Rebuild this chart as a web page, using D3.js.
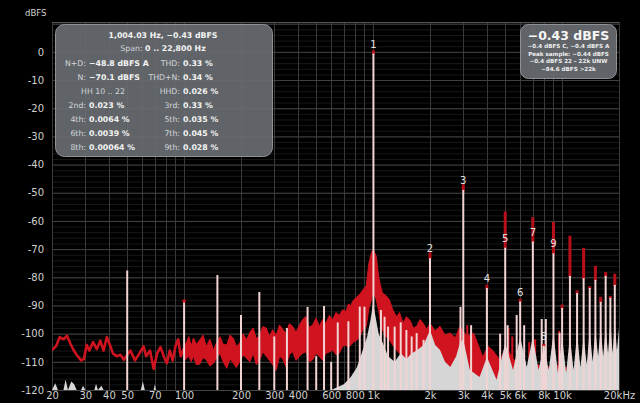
<!DOCTYPE html>
<html>
<head>
<meta charset="utf-8">
<script src="https://cdn.jsdelivr.net/npm/d3@7"></script>
<style>
  body { margin: 0; background: #000; }
  svg { display: block; font-family: "DejaVu Sans", sans-serif; }
</style>
</head>
<body>
<svg id="chart" width="640" height="403"></svg>
<script>
/* DATA */
// y ticks (dBFS) and x ticks (Hz)
const yTicks = [0, -10, -20, -30, -40, -50, -60, -70, -80, -90, -100, -110, -120];
const xTickValues = [20, 30, 40, 50, 70, 100, 200, 300, 400, 600, 800, 1000, 2000, 3000, 4000, 5000, 6000, 8000, 10000, 20000];
const xTickText = ["20", "30", "40", "50", "70", "100", "200", "300", "400", "600", "800", "1k", "2k", "3k", "4k", "5k", "6k", "8k", "10k", "20kHz"];

// red (peak hold) trace below 100 Hz: [Hz, dBFS]
const redLine = [
  [20, -105.8], [21, -104.5], [22, -101.2], [23, -102], [24, -100.8], [25, -103.5],
  [26, -105.8], [27, -107.5], [28.5, -109.5], [29.5, -109], [30.5, -104], [31.5, -106],
  [33, -103], [34.5, -105.5], [36, -102.5], [37.5, -106], [39, -101.2], [40.5, -104],
  [42, -107], [44, -108], [46, -107.5], [48, -109.3], [52, -106], [55, -109.5],
  [58, -107], [61, -104.5], [63, -108], [66, -106], [69, -112.5], [72, -107],
  [75, -104.8], [78, -108], [81, -110.5], [84, -106], [87, -109.5], [90, -104.5],
  [93, -102], [96, -108], [100, -105]
];

// red band above 100 Hz: [Hz, top dBFS, bottom dBFS]
const redBand = [
  [100, -105, -109.5], [106, -101, -108], [109, -104.5, -110], [112, -101.5, -108],
  [116, -103.8, -111], [121, -102.3, -110.8], [126, -100.5, -108.5], [131, -104.6, -109.3],
  [137, -102, -111.5], [143, -105.8, -110.5], [149, -103, -108.5], [155, -101.1, -107],
  [161, -103.8, -110], [168, -104, -112.3], [175, -100.5, -109], [182, -101.6, -110.5],
  [189, -104.5, -112], [197, -103.3, -109.9], [205, -100, -107.5], [214, -102.1, -108.7],
  [223, -99.5, -110], [232, -98, -107], [241, -101.8, -111], [251, -100.4, -109.3],
  [261, -97.5, -106.5], [272, -98, -108], [283, -101, -109.5], [294, -98.6, -111],
  [307, -100.5, -113], [320, -96.9, -108], [333, -98.5, -109], [346, -99.8, -111.8],
  [360, -96.5, -107.5], [375, -97.4, -106.4], [391, -99.5, -109.5], [408, -96.9, -108],
  [424, -95, -107], [441, -93.9, -106.4], [460, -97.8, -110], [479, -96.9, -109.3],
  [499, -94.5, -107], [519, -97.4, -108], [541, -95, -109.5], [563, -96.3, -107],
  [587, -93.5, -106.5], [611, -95.1, -105.8], [636, -92.5, -107.5], [662, -93.5, -107],
  [690, -91.5, -104.5], [718, -92.1, -104], [740, -89.5, -105], [760, -90, -104],
  [790, -88, -103], [820, -87, -102.3], [850, -86, -101], [883, -84.5, -98.7],
  [920, -83, -97.4], [950, -75, -91], [980, -71.4, -88], [1000, -70, -85],
  [1040, -72.6, -88], [1070, -79.9, -92], [1095, -83, -96], [1120, -85.6, -98.7],
  [1170, -86.5, -101], [1220, -88, -102.3], [1270, -91.5, -104], [1330, -94, -105.8],
  [1380, -92.5, -107], [1440, -96.3, -108.3], [1500, -94, -109], [1570, -95.3, -110.5],
  [1630, -98, -109], [1700, -97.4, -110.5], [1770, -95, -111], [1840, -96.3, -109.3],
  [1920, -98.5, -112], [2000, -96.3, -113], [2130, -99, -113], [2260, -97.4, -114],
  [2400, -100.5, -115], [2560, -99.8, -115.4], [2720, -101.5, -115], [2880, -97.4, -115],
  [3130, -101, -116], [3400, -99.8, -116], [3600, -104, -117], [3800, -108.3, -117],
  [4050, -104.5, -117], [4300, -106, -117], [4700, -109.5, -118], [5000, -105, -118],
  [5300, -107, -118], [5650, -110, -118], [6000, -108, -118], [6500, -113, -118],
  [6950, -109, -118], [7400, -111, -118], [8300, -112, -118], [9300, -111, -118],
  [10600, -112, -118], [13500, -113, -118], [20000, -115, -118]
];

// red spikes poking out of the band: [Hz, dBFS]
const redSpikes = [[3150, -97], [3300, -99], [5200, -98], [5450, -101], [6700, -103], [7200, -102], [9650, -99]];

// grey (current) trace, filled from the floor: [Hz, dBFS]
const greyTrace = [
  [20, -120], [20.8, -117.6], [21.5, -120], [23, -120], [23.6, -116.3], [24.3, -120],
  [25.3, -117], [26.2, -118], [27, -120], [28.5, -120], [29.2, -118.5], [30, -120],
  [33.5, -120], [34.2, -117.8], [35, -120], [36.5, -118.5], [37.5, -120], [59, -120],
  [60.5, -117], [62, -120], [69, -120], [70, -118], [71, -120], [600, -120],
  [700, -118], [760, -115.5], [820, -112], [880, -106], [930, -101], [970, -95],
  [1000, -89], [1030, -94], [1070, -100], [1120, -103], [1200, -108], [1300, -110],
  [1400, -107], [1500, -109], [1600, -107], [1700, -106], [1850, -104], [2000, -98.7],
  [2130, -104], [2260, -105.8], [2400, -110], [2560, -111.8], [2750, -108], [2880, -103.3],
  [3000, -102], [3250, -112.9], [3660, -115.4], [4000, -108.3], [4500, -116.4], [5000, -103.3],
  [5500, -112.9], [6000, -101.1], [6500, -111.8], [7000, -101.1], [7500, -112.9], [8000, -104.7],
  [8500, -112.9], [9000, -99.8], [9500, -114], [10000, -101.1], [10500, -114], [11000, -101],
  [11500, -113], [12000, -100], [12500, -112], [13000, -101], [13500, -111], [14000, -98.7],
  [14500, -110], [15000, -98.7], [15500, -108], [16000, -98], [16500, -108], [17000, -98],
  [17500, -107], [18000, -96], [18500, -107], [19000, -96], [19500, -106], [20000, -98]
];

// hum / sideband spikes: [Hz, dBFS]
const humSpikes = [
  [50, -77.6], [100, -88.7], [150, -79.2], [200, -93.4], [250, -85.2], [300, -101],
  [350, -98], [450, -90.5], [500, -108], [550, -90.2], [600, -110], [650, -96],
  [740, -95.6], [850, -90.4], [900, -90.4], [1100, -91.6], [1150, -94], [1200, -97.5],
  [1300, -97.5], [1400, -96], [1500, -98.7], [1600, -101], [1700, -99.8], [1850, -102.2],
  [2900, -90.5], [3300, -97], [4700, -100], [5150, -97], [5750, -93.4], [6300, -97],
  [7800, -94.8], [8200, -94.8], [9700, -99.7]
];

// numbered harmonics: [n, Hz, dBFS, peak hold dBFS]
const harmonics = [
  [1, 1004, -0.6, 0.2], [2, 2000, -73.2, -71.5], [3, 3000, -49, -47.3], [4, 4000, -83.8, -83],
  [5, 5000, -69.5, -57], [6, 6000, -88.6, -88], [7, 7000, -67.3, -59], [8, 8000, -104.3, -104],
  [9, 9000, -71.5, -60.7]
];

// higher harmonics 10..19 (unlabelled): [Hz, dBFS, peak hold dBFS]
const highHarmonics = [
  [10000, -90.9, -90], [11000, -79.5, -65.6], [12000, -85.6, -85], [13000, -80.3, -69.9],
  [14000, -83.8, -83.5], [15000, -80.9, -76.3], [16000, -88.7, -87.3], [17000, -79.5, -78.5],
  [18000, -87.3, -87], [19000, -82.7, -79.1]
];

// info panels
const infoTitle = "1,004.03 Hz, \u22120.43 dBFS";
const infoSpan = ["Span: ", "0 .. 22,800 Hz"];
const infoLeft = [["N+D:", "\u221248.8 dBFS A"], ["N:", "\u221270.1 dBFS"], ["", ""], ["2nd:", "0.023 %"], ["4th:", "0.0064 %"], ["6th:", "0.0039 %"], ["8th:", "0.00064 %"]];
const infoRight = [["THD:", "0.33 %"], ["THD+N:", "0.34 %"], ["HHD:", "0.026 %"], ["3rd:", "0.33 %"], ["5th:", "0.035 %"], ["7th:", "0.045 %"], ["9th:", "0.028 %"]];
const infoHH = "HH 10 .. 22";
const levelBig = "\u22120.43 dBFS";
const levelLines = ["\u22120.4 dBFS C, \u22120.4 dBFS A", "Peak sample: \u22120.44 dBFS", "\u22120.4 dBFS 22 \u2013 22k UNW", "\u221284.6 dBFS >22k"];

/* LAYOUT */
const W = 640, H = 403;
const margin = { top: 22, right: 21, bottom: 13, left: 52 };
const plotL = margin.left, plotR = W - margin.right, plotT = margin.top, plotB = H - margin.bottom;

const RED = "#cf1420";
const SPIKE = "#f2d4d4";
const GREY = "#d6d6d6";

const svg = d3.select("#chart");
svg.append("rect").attr("width", W).attr("height", H).attr("fill", "#000");

const x = d3.scaleLog().domain([20, 20000]).range([plotL, plotR]);
const y = d3.scaleLinear().domain([-120, 10.6]).range([plotB, plotT]);

svg.append("defs").append("clipPath").attr("id", "plotclip")
  .append("rect").attr("x", plotL).attr("y", plotT).attr("width", plotR - plotL).attr("height", plotB - plotT);

// grid
const grid = svg.append("g");
grid.selectAll(".ymin").data(d3.range(-120, 11, 2)).join("line")
  .attr("x1", plotL).attr("x2", plotR).attr("y1", d => y(d) + 0.5).attr("y2", d => y(d) + 0.5)
  .attr("stroke", "#181818");
grid.selectAll(".ymaj").data(d3.range(-120, 11, 10)).join("line")
  .attr("x1", plotL).attr("x2", plotR).attr("y1", d => y(d) + 0.5).attr("y2", d => y(d) + 0.5)
  .attr("stroke", "#434343");
const xGrid = [];
[10, 100, 1000].forEach(dec => { for (let k = 1; k <= 9; k++) if (dec * k >= 20) xGrid.push(dec * k); });
xGrid.push(10000, 20000);
grid.selectAll(".xg").data(xGrid).join("line")
  .attr("x1", d => Math.round(x(d)) + 0.5).attr("x2", d => Math.round(x(d)) + 0.5)
  .attr("y1", plotT).attr("y2", plotB)
  .attr("stroke", "#3a3a3a");
grid.append("line").attr("x1", plotL).attr("x2", plotR).attr("y1", plotT + 0.5).attr("y2", plotT + 0.5).attr("stroke", "#555");

const plot = svg.append("g").attr("clip-path", "url(#plotclip)");

// red peak-hold trace
plot.append("path").datum(redLine)
  .attr("fill", "none").attr("stroke", RED).attr("stroke-width", 2.6).attr("stroke-linejoin", "round")
  .attr("d", d3.line().x(d => x(d[0])).y(d => y(d[1])));
plot.append("path").datum(redBand)
  .attr("fill", RED).attr("stroke", RED).attr("stroke-width", 1)
  .attr("d", d3.area().x(d => x(d[0])).y0(d => y(d[2])).y1(d => y(d[1])));
plot.selectAll(".rs").data(redSpikes).join("line")
  .attr("x1", d => x(d[0])).attr("x2", d => x(d[0]))
  .attr("y1", y(-116)).attr("y2", d => y(d[1]))
  .attr("stroke", RED).attr("stroke-width", 2);

// grey current trace
plot.append("path").datum(greyTrace)
  .attr("fill", GREY)
  .attr("d", d3.area().x(d => x(d[0])).y0(plotB).y1(d => y(d[1])));

// spikes
plot.selectAll(".hum").data(humSpikes).join("line")
  .attr("x1", d => x(d[0])).attr("x2", d => x(d[0]))
  .attr("y1", plotB).attr("y2", d => y(d[1]))
  .attr("stroke", SPIKE).attr("stroke-width", 2);
plot.append("circle").attr("cx", x(100)).attr("cy", y(-88.4)).attr("r", 1.8).attr("fill", RED);

const allPeaks = harmonics.map(d => [d[1], d[2], d[3]]).concat(highHarmonics);
plot.selectAll(".cap").data(allPeaks).join("line")
  .attr("x1", d => x(d[0])).attr("x2", d => x(d[0]))
  .attr("y1", d => y(d[1]) + 1).attr("y2", d => y(d[2]) - 1)
  .attr("stroke", "#b8101a").attr("stroke-width", 3);
plot.selectAll(".hl").data(allPeaks).join("line")
  .attr("x1", d => x(d[0])).attr("x2", d => x(d[0]))
  .attr("y1", plotB).attr("y2", d => y(d[1]))
  .attr("stroke", SPIKE).attr("stroke-width", 2);

plot.selectAll(".hlab").data(harmonics).join("text")
  .attr("x", d => x(d[1])).attr("y", d => y(d[2]) - 6)
  .attr("text-anchor", "middle").attr("fill", "#e2e2e2").attr("font-size", 10)
  .text(d => d[0]);

// axes
const yAxis = d3.axisLeft(y).tickValues(yTicks).tickSize(0).tickPadding(8).tickFormat(d => d);
const gy = svg.append("g").attr("transform", `translate(${plotL},0)`).call(yAxis);
const xAxis = d3.axisBottom(x).tickValues(xTickValues).tickSize(0).tickPadding(2)
  .tickFormat((d, i) => xTickText[i]);
const gx = svg.append("g").attr("transform", `translate(0,${plotB})`).call(xAxis);
[gx, gy].forEach(g => {
  g.select(".domain").remove();
  g.selectAll("text").attr("fill", "#d0d0d0").attr("font-size", 10).attr("font-family", "DejaVu Sans, sans-serif");
});
svg.append("text").attr("x", 25).attr("y", 16).attr("fill", "#d0d0d0").attr("font-size", 8.5).text("dBFS");

// info panel (left)
const info = svg.append("g");
info.append("rect").attr("x", 55.5).attr("y", 24.5).attr("width", 217).attr("height", 132).attr("rx", 9)
  .attr("fill", "#676c71").attr("fill-opacity", 0.93).attr("stroke", "#8e9296");
info.append("text").attr("x", 163).attr("y", 38).attr("text-anchor", "middle")
  .attr("fill", "#f4f4f4").attr("font-size", 7.8).attr("font-weight", "bold").text(infoTitle);
const spanT = info.append("text").attr("x", 163).attr("y", 51.3).attr("text-anchor", "middle").attr("font-size", 7.8);
spanT.append("tspan").attr("fill", "#d3d6d9").text(infoSpan[0]);
spanT.append("tspan").attr("fill", "#f4f4f4").attr("font-weight", "bold").text(infoSpan[1]);

const rowY = d3.range(7).map(i => 65.7 + i * 14.1);
[[infoLeft, 86], [infoRight, 180]].forEach(([rows, cx]) => {
  info.selectAll(null).data(rows).join("text")
    .attr("x", cx).attr("y", (d, i) => rowY[i]).attr("text-anchor", "end")
    .attr("fill", "#d3d6d9").attr("font-size", 7.8).text(d => d[0]);
  info.selectAll(null).data(rows).join("text")
    .attr("x", cx + 3).attr("y", (d, i) => rowY[i])
    .attr("fill", "#f4f4f4").attr("font-size", 7.8).attr("font-weight", "bold").text(d => d[1]);
});
info.append("text").attr("x", 103).attr("y", rowY[2]).attr("text-anchor", "middle")
  .attr("fill", "#d3d6d9").attr("font-size", 7.8).text(infoHH);

// level panel (right)
const lvl = svg.append("g");
lvl.append("rect").attr("x", 520.5).attr("y", 24.5).attr("width", 96).attr("height", 54).attr("rx", 8)
  .attr("fill", "#676c71").attr("fill-opacity", 0.93).attr("stroke", "#8e9296");
lvl.append("text").attr("x", 568.5).attr("y", 39.5).attr("text-anchor", "middle")
  .attr("fill", "#f6f6f6").attr("font-size", 12.5).attr("font-weight", "bold").text(levelBig);
lvl.selectAll(null).data(levelLines).join("text")
  .attr("x", 568.5).attr("y", (d, i) => 48 + i * 7.7).attr("text-anchor", "middle")
  .attr("fill", "#eeeeee").attr("font-size", 5.6).attr("font-weight", "bold").text(d => d);
</script>
</body>
</html>
